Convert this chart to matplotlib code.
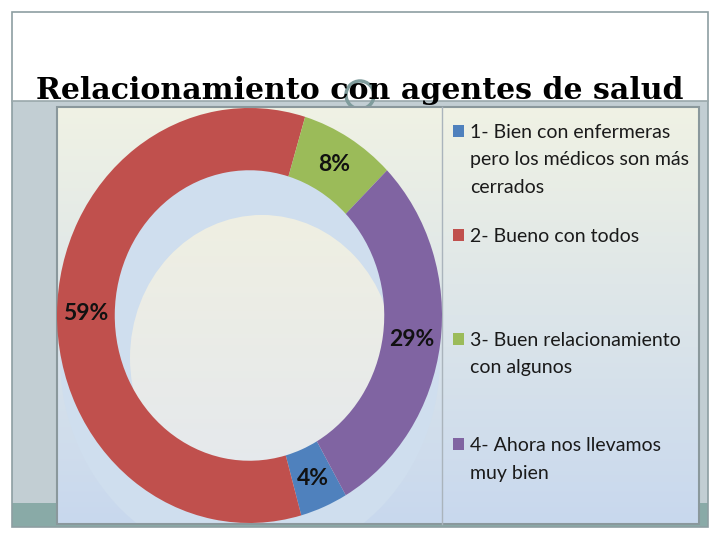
import numpy as np
import matplotlib.pyplot as plt
from matplotlib.patches import Rectangle, Ellipse, Circle
from matplotlib.colors import to_rgb

# data
categories = ['1- Bien con enfermeras\npero los médicos son más\ncerrados',
              '2- Bueno con todos',
              '3- Buen relacionamiento\ncon algunos',
              '4- Ahora nos llevamos\nmuy bien']
values = [4, 59, 8, 29]
colors = ['#4f81bd', '#c0504d', '#9bbb59', '#8064a2']
title = 'Relacionamiento con agentes de salud'


def vgrad(top, bottom, n=256):
    t = np.linspace(0, 1, n)[:, None, None]
    return (1 - t) * np.array(to_rgb(top)) + t * np.array(to_rgb(bottom))


fig = plt.figure(figsize=(7.2, 5.4), dpi=100)
fig.patch.set_facecolor('white')

# slide drawn in pixel coordinates
bg = fig.add_axes([0, 0, 1, 1])
bg.set_xlim(0, 720)
bg.set_ylim(540, 0)
bg.axis('off')

bg.add_patch(Rectangle((12, 101), 696, 404, facecolor='#c2ced3', edgecolor='none', zorder=1))
bg.add_patch(Rectangle((12, 503), 696, 24, facecolor='#89aaa7', edgecolor='none', zorder=1))
bg.add_patch(Rectangle((12, 12), 696, 515, facecolor='none', edgecolor='#8d9ea2', lw=1.2, zorder=2))
bg.plot([12, 708], [101, 101], color='#9aa8ab', lw=1.2, zorder=2)
bg.add_patch(Circle((360, 95), 14, facecolor='none', edgecolor='#7f9c9c', lw=2.5, zorder=2))
bg.text(360, 99, title, ha='center', va='baseline', fontsize=21.6, fontweight='bold',
        family='DejaVu Serif', color='black', zorder=3)

# chart picture with its gradient fill
bg.imshow(vgrad('#f0f2e4', '#c8d8ee'), extent=(57, 699, 524, 107), aspect='auto',
          interpolation='bilinear', zorder=4)
bg.add_patch(Rectangle((57, 107), 642, 417, facecolor='none', edgecolor='#8a989c', lw=1.5, zorder=6))
bg.plot([442, 442], [107, 524], color='#aab4bc', lw=1, zorder=6)

plot_area = Rectangle((57, 107), 385, 417, transform=bg.transData)
shade = Ellipse((250, 358), 380, 412, facecolor='#cfdeee', edgecolor='none', zorder=5)
bg.add_patch(shade)
shade.set_clip_path(plot_area)
inner = Ellipse((262, 358), 264, 286, facecolor='none', edgecolor='none', zorder=5)
bg.add_patch(inner)
img = bg.imshow(vgrad('#efefe2', '#e4e8ee'), extent=(130, 394, 501, 215), aspect='auto',
                interpolation='bilinear', zorder=5.5)
img.set_clip_path(inner)

# legend
rows = [138, 242, 346, 451]
for name, col, y0 in zip(categories, colors, rows):
    bg.add_patch(Rectangle((453, y0 - 13), 11, 12, facecolor=col, edgecolor='none', zorder=7))
    for i, line in enumerate(name.split('\n')):
        bg.text(470, y0 + i * 27.5, line, ha='left', va='baseline', fontsize=14,
                family='Lato', color='#1a1a1a', zorder=7)

# donut
ax = fig.add_axes([57 / 720, 1 - 523 / 540, 385 / 720, 415 / 540])
wedges, texts, pcts = ax.pie(values, colors=colors, startangle=-60, counterclock=False,
                             autopct='%.0f%%', pctdistance=0.85,
                             wedgeprops=dict(width=0.3, edgecolor='none'),
                             textprops=dict(fontsize=16.5, fontweight='bold', family='Lato',
                                            color='#111111'))
ax.set_aspect('auto')
ax.set_xlim(-1, 1)
ax.set_ylim(-1, 1)
ax.axis('off')
ax.patch.set_alpha(0)

fig.savefig('out.png', dpi=100)
